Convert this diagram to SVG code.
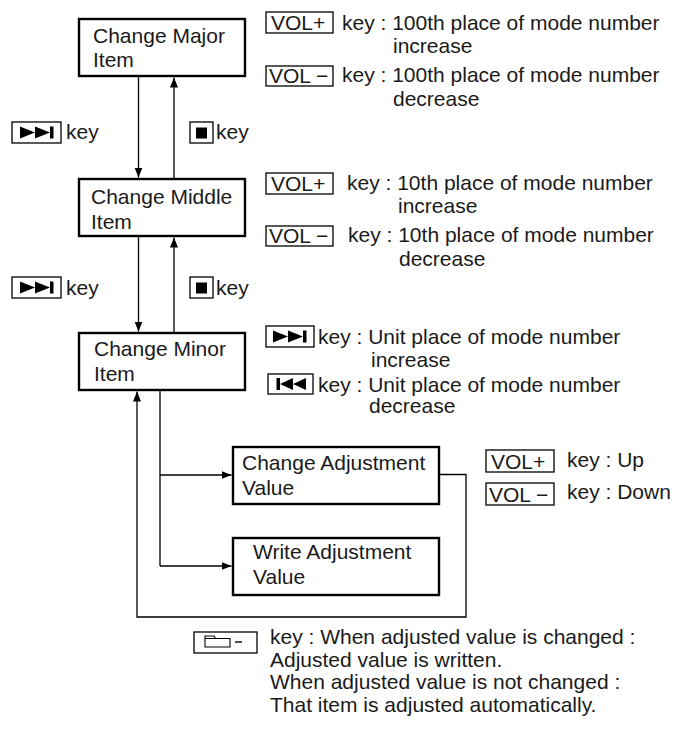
<svg xmlns="http://www.w3.org/2000/svg" width="674" height="733" viewBox="0 0 674 733">
<defs>
<style>
text{font-family:"Liberation Sans",Arial,sans-serif;font-size:21px;fill:#1a1a1a}
.vol{font-size:21px}
.node{fill:#fff;stroke:#000;stroke-width:2.4}
.kb{fill:#fff;stroke:#000;stroke-width:1.3}
.conn{fill:none;stroke:#000;stroke-width:1.3}
.ic{fill:#000}
</style>
<marker id="ah" viewBox="0 0 10 8" refX="10" refY="4" markerWidth="10" markerHeight="8" markerUnits="userSpaceOnUse" orient="auto">
<path d="M0,0 L10,4 L0,8 Z" fill="#000"/>
</marker>
<g id="ffIcon">
<path d="M0,0 L15,6 L0,12 Z M15,0 L30,6 L15,12 Z"/>
<rect x="30" y="0" width="3.5" height="12"/>
</g>
</defs>

<g id="connectors">
<line class="conn" x1="138.5" y1="77" x2="138.5" y2="177.5" marker-end="url(#ah)"/>
<line class="conn" x1="174" y1="178" x2="174" y2="77.5" marker-end="url(#ah)"/>
<line class="conn" x1="138.5" y1="237" x2="138.5" y2="331.5" marker-end="url(#ah)"/>
<line class="conn" x1="174" y1="332" x2="174" y2="237.5" marker-end="url(#ah)"/>
<line class="conn" x1="160" y1="391" x2="160" y2="566"/>
<line class="conn" x1="160" y1="475" x2="231.5" y2="475" marker-end="url(#ah)"/>
<line class="conn" x1="160" y1="566" x2="231.5" y2="566" marker-end="url(#ah)"/>
<path class="conn" d="M440,474.5 H466 V617 H137 V391.5" marker-end="url(#ah)"/>
</g>

<g id="node-major">
<rect class="node" x="79" y="19" width="166" height="57"/>
<text x="93" y="43">Change Major</text>
<text x="93" y="67">Item</text>
</g>
<g id="node-middle">
<rect class="node" x="79" y="179" width="166" height="57"/>
<text x="91" y="204">Change Middle</text>
<text x="91" y="229">Item</text>
</g>
<g id="node-minor">
<rect class="node" x="79" y="333" width="166" height="57"/>
<text x="94" y="356">Change Minor</text>
<text x="94" y="381">Item</text>
</g>
<g id="node-change-adj">
<rect class="node" x="233" y="447" width="206" height="57"/>
<text x="242" y="470">Change Adjustment</text>
<text x="242" y="495">Value</text>
</g>
<g id="node-write-adj">
<rect class="node" x="233" y="538" width="206" height="57"/>
<text x="253" y="559">Write Adjustment</text>
<text x="253" y="584">Value</text>
</g>

<g id="left-keys">
<rect class="kb" x="12" y="122" width="49" height="21"/>
<use href="#ffIcon" class="ic" x="20" y="126.5"/>
<text x="66" y="139">key</text>
<rect class="kb" x="190" y="122" width="23" height="21"/>
<rect class="ic" x="196" y="127.5" width="11" height="11"/>
<text x="216" y="139">key</text>
<rect class="kb" x="12" y="277" width="49" height="21"/>
<use href="#ffIcon" class="ic" x="20" y="281.5"/>
<text x="66" y="295">key</text>
<rect class="kb" x="190" y="277" width="23" height="21"/>
<rect class="ic" x="196" y="282.5" width="11" height="11"/>
<text x="216" y="295">key</text>
</g>

<g id="major-keys">
<rect class="kb" x="266" y="12" width="67" height="21"/>
<text class="vol" x="271" y="30">VOL+</text>
<text x="342" y="29.5">key : 100th place of mode number</text>
<text x="393" y="53">increase</text>
<rect class="kb" x="266" y="66" width="67" height="20"/>
<text class="vol" x="269" y="83">VOL −</text>
<text x="342" y="82">key : 100th place of mode number</text>
<text x="393" y="106">decrease</text>
</g>

<g id="middle-keys">
<rect class="kb" x="266" y="173" width="67" height="21"/>
<text class="vol" x="271" y="191">VOL+</text>
<text x="347" y="190">key : 10th place of mode number</text>
<text x="398" y="213">increase</text>
<rect class="kb" x="266" y="226" width="67" height="20"/>
<text class="vol" x="269" y="243">VOL −</text>
<text x="348" y="242">key : 10th place of mode number</text>
<text x="399" y="266">decrease</text>
</g>

<g id="minor-keys">
<rect class="kb" x="266" y="326" width="48" height="21"/>
<use href="#ffIcon" class="ic" x="273" y="330.5"/>
<text x="318" y="344">key : Unit place of mode number</text>
<text x="371" y="367">increase</text>
<rect class="kb" x="268" y="374" width="45" height="20"/>
<g class="ic" transform="translate(306,378) scale(-1,1)">
<path d="M0,0 L13,6 L0,12 Z M13,0 L26,6 L13,12 Z"/>
<rect x="26" y="0" width="3.5" height="12"/>
</g>
<text x="318" y="392">key : Unit place of mode number</text>
<text x="369" y="413">decrease</text>
</g>

<g id="adj-keys">
<rect class="kb" x="486" y="450" width="68" height="22"/>
<text class="vol" x="491" y="468.5">VOL+</text>
<text x="567" y="467">key : Up</text>
<rect class="kb" x="486" y="483" width="68" height="22"/>
<text class="vol" x="489" y="501.5">VOL −</text>
<text x="567" y="499">key : Down</text>
</g>

<g id="folder-key">
<rect class="kb" x="194" y="632" width="63" height="21"/>
<path d="M205,647 V636 H214 L215.5,638.5 H230 V647 Z M205,638.5 H215.5" fill="none" stroke="#000" stroke-width="1.1"/>
<line x1="235" y1="642" x2="242" y2="642" stroke="#000" stroke-width="1.4"/>
<text x="270" y="644">key : When adjusted value is changed :</text>
<text x="270" y="667">Adjusted value is written.</text>
<text x="270" y="689">When adjusted value is not changed :</text>
<text x="270" y="712">That item is adjusted automatically.</text>
</g>
</svg>
